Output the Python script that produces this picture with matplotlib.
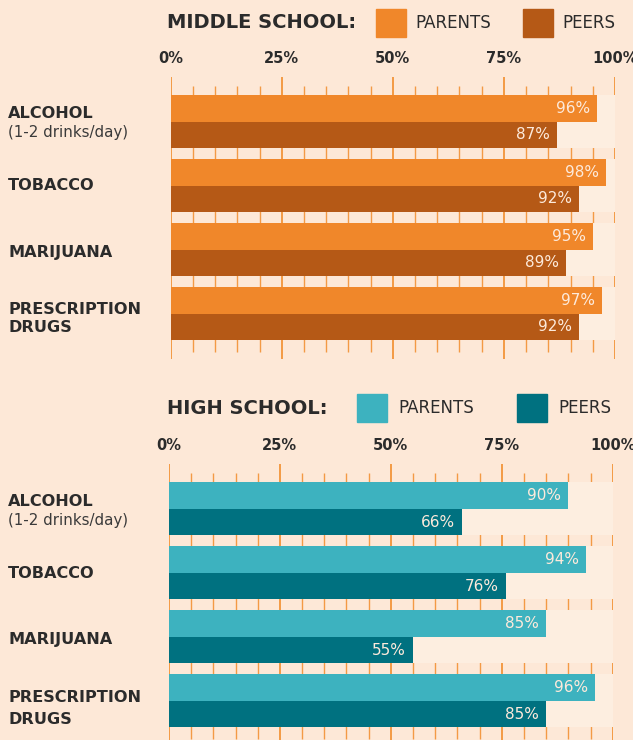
import matplotlib
matplotlib.use('Agg')
import matplotlib.pyplot as plt
from matplotlib.patches import Rectangle

# survey results: % of students who say each group disapproves
categories = ['ALCOHOL', 'TOBACCO', 'MARIJUANA', 'PRESCRIPTION\nDRUGS']
sub_labels = ['(1-2 drinks/day)', '', '', '']
tick_values = [0, 25, 50, 75, 100]
tick_labels = ['0%', '25%', '50%', '75%', '100%']

middle_parents = [96, 98, 95, 97]
middle_peers = [87, 92, 89, 92]
high_parents = [90, 94, 85, 96]
high_peers = [66, 76, 55, 85]

W, H = 633, 740
BG = '#fde8d7'
TRACK = '#fdeee0'
TICK = '#f39a45'
INK = '#2b2b2b'
VALUE_INK = '#fdeadb'

plt.rcParams['font.family'] = ['DejaVu Sans']

fig = plt.figure(figsize=(W / 100, H / 100), dpi=100)
fig.patch.set_facecolor(BG)


def px_box(x0, y0, x1, y1):
    return [x0 / W, 1 - y1 / H, (x1 - x0) / W, (y1 - y0) / H]


def fx(x):
    return x / W


def fy(y):
    return 1 - y / H


PX = 0.72  # points per pixel at 100 dpi
BAR_H = 0.414
Y_TOP, Y_BOT = -0.70, 3.71
MINOR_TOP, MINOR_BOT = -0.555, 3.597


def draw_section(top, left, right, title, head, parents, peers, c_par, c_peer, lab_offsets):
    height = (Y_BOT - Y_TOP) * 64
    ax = fig.add_axes(px_box(left, top, right, top + height))
    ax.set_xlim(0, 100)
    ax.set_ylim(Y_BOT, Y_TOP)
    ax.axis('off')
    ax.patch.set_alpha(0)

    # ruler lines every 5%
    for v in range(0, 101, 5):
        if v % 25 == 0:
            ax.vlines(v, Y_TOP, Y_BOT, color=TICK, lw=1.4, zorder=1)
        else:
            ax.vlines(v, MINOR_TOP, MINOR_BOT, color=TICK, lw=1.0, zorder=1)

    ys = list(range(len(categories)))
    y_par = [y - BAR_H / 2 for y in ys]
    y_peer = [y + BAR_H / 2 for y in ys]
    ax.barh(y_par, [100] * len(ys), height=BAR_H, color=TRACK, zorder=2)
    ax.barh(y_peer, [100] * len(ys), height=BAR_H, color=TRACK, zorder=2)
    ax.barh(y_par, parents, height=BAR_H, color=c_par, zorder=3)
    ax.barh(y_peer, peers, height=BAR_H, color=c_peer, zorder=3)

    for yy, vals in ((y_par, parents), (y_peer, peers)):
        for y, v in zip(yy, vals):
            ax.annotate(f'{v}%', xy=(v, y), xytext=(-7 * PX, 0), textcoords='offset points',
                        ha='right', va='center', fontsize=11, color=VALUE_INK, zorder=4)

    # axis percentages above the ruler
    for v, t in zip(tick_values, tick_labels):
        ax.annotate(t, xy=(v, Y_TOP), xytext=(0, 18.5 * PX), textcoords='offset points',
                    ha='center', va='center', fontsize=10.5, fontweight='bold', color=INK)

    # row labels on the left
    for i, (cat, sub) in enumerate(zip(categories, sub_labels)):
        off_main, off_sub, spacing = lab_offsets[i]
        ax.annotate(cat, xy=(fx(8), i), xycoords=('figure fraction', 'data'),
                    xytext=(0, -off_main * PX), textcoords='offset points',
                    ha='left', va='center', fontsize=11.6, fontweight='bold', color=INK,
                    linespacing=spacing)
        if sub:
            ax.annotate(sub, xy=(fx(8), i), xycoords=('figure fraction', 'data'),
                        xytext=(0, -off_sub * PX), textcoords='offset points',
                        ha='left', va='center', fontsize=10.8, color='#3a3a3a')

    # header: title and legend swatches
    fig.text(fx(head['title_x']), fy(head['y']), title, ha='left', va='center',
             fontsize=14, fontweight='bold', color=INK)
    for bx, tx, col, name in ((head['box1'], head['txt1'], c_par, 'PARENTS'),
                              (head['box2'], head['txt2'], c_peer, 'PEERS')):
        fig.patches.append(Rectangle((fx(bx), fy(head['y'] + 14)), 30 / W, 28 / H,
                                     transform=fig.transFigure, color=col))
        fig.text(fx(tx), fy(head['y']), name, ha='left', va='center',
                 fontsize=12, color=INK)


draw_section(76.7, 170.7, 615, 'MIDDLE SCHOOL:',
             dict(title_x=167, y=22.8, box1=376, txt1=415, box2=523, txt2=562),
             middle_parents, middle_peers, '#f0872a', '#b55916',
             [(-8.5, 10.5, 1.2), (0.5, 0, 1.2), (2.5, 0, 1.2), (4.5, 0, 1.25)])

draw_section(464, 169, 612.7, 'HIGH SCHOOL:',
             dict(title_x=167, y=408, box1=357, txt1=398, box2=517, txt2=558),
             high_parents, high_peers, '#3db2bf', '#007180',
             [(-7.7, 11.3, 1.2), (0.5, 0, 1.2), (2.5, 0, 1.2), (7.5, 0, 1.6)])

fig.savefig('out.png', dpi=100, facecolor=BG)
